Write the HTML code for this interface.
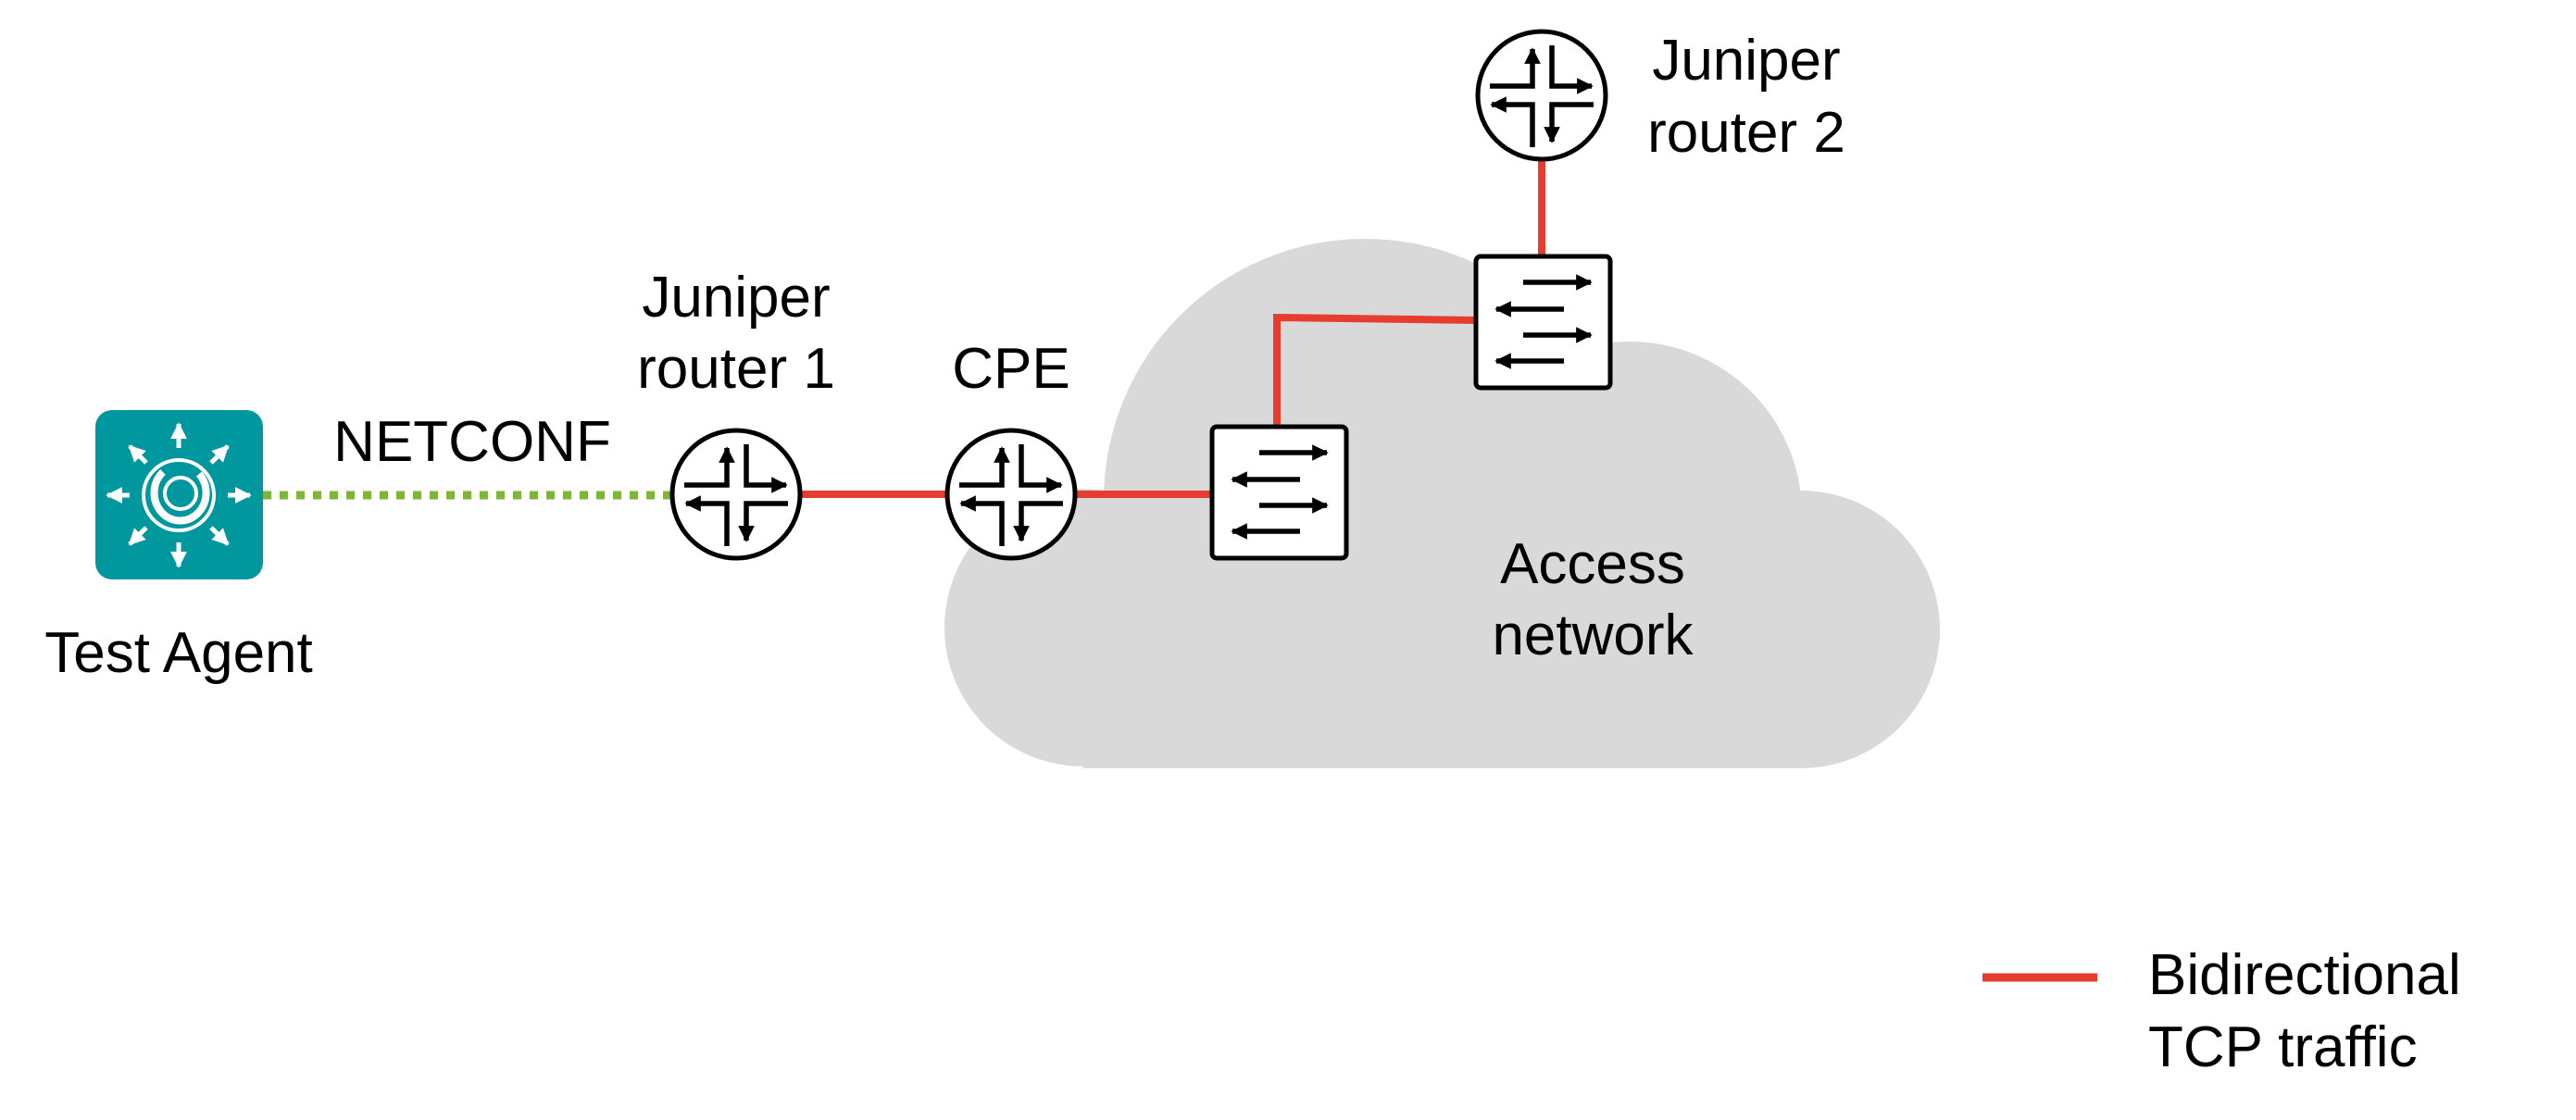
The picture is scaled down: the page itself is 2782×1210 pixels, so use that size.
<!DOCTYPE html>
<html><head><meta charset="utf-8"><style>
html,body{margin:0;padding:0;background:#fff;}
svg{display:block;}
text{font-family:"Liberation Sans",sans-serif;font-size:62px;fill:#000;}
</style></head><body>
<svg width="2782" height="1210" viewBox="0 0 2782 1210" xmlns="http://www.w3.org/2000/svg">
<defs>
<marker id="ah" viewBox="0 0 10 10" refX="9" refY="5" markerWidth="3.2" markerHeight="3.2" orient="auto"><path d="M0,0 L10,5 L0,10 z" fill="#000"/></marker>
<marker id="wh" viewBox="0 0 10 10" refX="9" refY="5" markerWidth="3.6" markerHeight="3.6" orient="auto"><path d="M0,0 L10,5 L0,10 z" fill="#fff"/></marker>
<g id="router">
<circle cx="0" cy="0" r="69" fill="#fff" stroke="#000" stroke-width="5"/>
<g fill="none" stroke="#000" stroke-width="5.5">
<path d="M-56,-10 L-10,-10 L-10,-50" marker-end="url(#ah)"/>
<path d="M11,-54 L11,-10 L54,-10" marker-end="url(#ah)"/>
<path d="M-10,56 L-10,10 L-54,10" marker-end="url(#ah)"/>
<path d="M56,10 L11,10 L11,50" marker-end="url(#ah)"/>
</g>
</g>
<g id="switch">
<rect x="0" y="0" width="145" height="142" rx="5" fill="#fff" stroke="#000" stroke-width="5"/>
<g stroke="#000" stroke-width="5.5" fill="none">
<path d="M51,28 L124,28" marker-end="url(#ah)"/>
<path d="M95,57 L22,57" marker-end="url(#ah)"/>
<path d="M51,85 L124,85" marker-end="url(#ah)"/>
<path d="M95,113 L22,113" marker-end="url(#ah)"/>
</g>
</g>
</defs>

<g fill="#d9d9d9">
<circle cx="1474" cy="540" r="282"/>
<circle cx="1760" cy="555" r="186"/>
<circle cx="1945" cy="680" r="150"/>
<circle cx="1170" cy="678" r="150"/>
<rect x="1170" y="540" width="775" height="290"/>
<rect x="1200" y="530" width="600" height="150"/>
</g>

<line x1="284" y1="535" x2="725" y2="535" stroke="#7fb53a" stroke-width="9" stroke-dasharray="9 9"/>
<g stroke="#e63d30" stroke-width="8" fill="none">
<line x1="860" y1="534" x2="1030" y2="534"/>
<line x1="1160" y1="534" x2="1310" y2="534"/>
<path d="M1379,462 L1379,343 L1596,346"/>
<line x1="1665" y1="170" x2="1665" y2="278"/>
</g>

<rect x="103" y="443" width="181" height="183" rx="18" fill="#00979f"/>
<g stroke="#fff" stroke-width="5" fill="none">
<line x1="193" y1="484" x2="193" y2="458" marker-end="url(#wh)"/>
<line x1="193" y1="586" x2="193" y2="612" marker-end="url(#wh)"/>
<line x1="140" y1="535" x2="116" y2="535" marker-end="url(#wh)"/>
<line x1="246" y1="535" x2="270" y2="535" marker-end="url(#wh)"/>
<line x1="158" y1="500" x2="140" y2="482" marker-end="url(#wh)"/>
<line x1="228" y1="500" x2="246" y2="482" marker-end="url(#wh)"/>
<line x1="158" y1="570" x2="140" y2="588" marker-end="url(#wh)"/>
<line x1="228" y1="570" x2="246" y2="588" marker-end="url(#wh)"/>
<circle cx="193" cy="535" r="38" stroke-width="4"/>
<path d="M176,510 A28,30 0 1 0 215,512" stroke-width="8"/>
<circle cx="195" cy="533" r="17" stroke-width="4"/>
</g>

<use href="#router" x="795" y="534"/>
<use href="#router" x="1092" y="534"/>
<use href="#router" x="1665" y="103"/>
<use href="#switch" x="1309" y="461"/>
<use href="#switch" x="1594" y="277"/>

<text x="795" y="342" text-anchor="middle">Juniper</text>
<text x="795" y="419" text-anchor="middle">router 1</text>
<text x="1092" y="419" text-anchor="middle">CPE</text>
<text x="510" y="498" text-anchor="middle">NETCONF</text>
<text x="193" y="726" text-anchor="middle">Test Agent</text>
<text x="1886" y="86" text-anchor="middle">Juniper</text>
<text x="1886" y="164" text-anchor="middle">router 2</text>
<text x="1720" y="630" text-anchor="middle">Access</text>
<text x="1720" y="707" text-anchor="middle">network</text>

<line x1="2141" y1="1056" x2="2265" y2="1056" stroke="#e63d30" stroke-width="9"/>
<text x="2320" y="1074">Bidirectional</text>
<text x="2320" y="1152">TCP traffic</text>
</svg>
</body></html>
